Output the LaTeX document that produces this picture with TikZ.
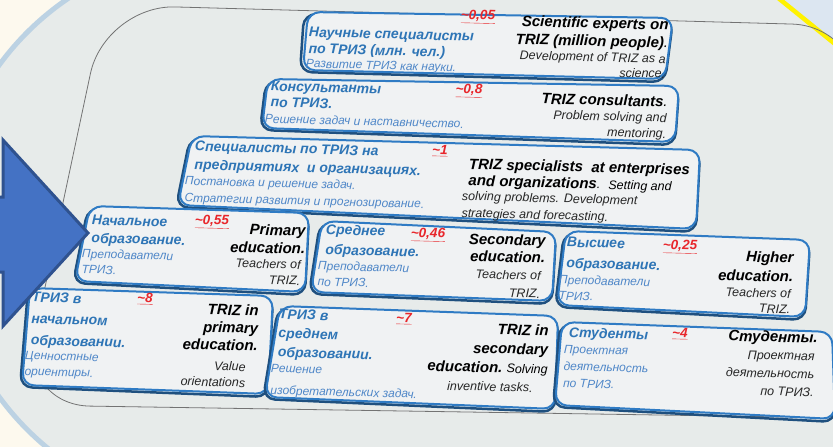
\documentclass[tikz,border=0pt]{standalone}
\usepackage{fontspec}
\setmainfont{Liberation Sans}
\definecolor{cream}{HTML}{FDF9EE}
\definecolor{pagegrey}{HTML}{E7EBEA}
\definecolor{ringblue}{HTML}{BCD2E3}
\definecolor{boxblue}{HTML}{2F7BC4}
\definecolor{boxfill}{HTML}{F0F2F3}
\definecolor{rublue}{HTML}{2E75B6}
\definecolor{rulight}{HTML}{4F87C8}
\definecolor{numred}{HTML}{E8262B}
\definecolor{arrowfill}{HTML}{4472C4}
\definecolor{arrowline}{HTML}{2F528F}
\definecolor{skyblue}{HTML}{DCE6F1}
\newcommand{\rhfont}[1]{\fontsize{14}{#1}\selectfont\bfseries\itshape}
\newcommand{\ehfont}[1]{\fontsize{15}{#1}\selectfont\bfseries\itshape}
\newcommand{\rdfont}[1]{\fontsize{12}{#1}\selectfont\mdseries\itshape}
\newcommand{\edfont}[1]{\fontsize{12.5}{#1}\selectfont\mdseries\itshape}
\tikzset{
  rh/.style={text=rublue, font=\rhfont{#1}, align=left, inner sep=0pt, rotate=-1.5, anchor=north west},
  rh/.default=17,
  rd/.style={text=rulight, font=\rdfont{#1}, align=left, inner sep=0pt, rotate=-1.5, anchor=north west},
  rd/.default=16,
  eh/.style={text=black, font=\ehfont{#1}, align=right, inner sep=0pt, rotate=-1.5, anchor=north east},
  eh/.default=18,
  ed/.style={text=black!85, font=\edfont{#1}, align=right, inner sep=0pt, rotate=-1.5, anchor=north east},
  ed/.default=16,
  nm/.style={text=numred, font=\fontsize{13.5}{15}\selectfont\bfseries\itshape, inner sep=0pt, rotate=-1.5},
  boxshade/.style={draw=boxblue!65!black, line width=2.5pt, rounded corners=12pt},
  boxst/.style={draw=boxblue, fill=boxfill, line width=2pt, rounded corners=12pt}
}
\begin{document}
\begin{tikzpicture}[x=1pt,y=-1pt]
\useasboundingbox (0,0) rectangle (833,447);
\clip (0,0) rectangle (833,447);
% background
\fill[cream] (0,0) rectangle (833,447);
\fill[pagegrey] (226,231) circle[radius=281pt];
\fill[pagegrey] (226,-5) rectangle (840,452);
\draw[ringblue, line width=5pt] (226,231) ++(112:281pt) arc[start angle=112, end angle=248, radius=281pt];
\fill[skyblue] (777,-3) -- (845,-3) -- (845,52) -- cycle;
\draw[yellow, line width=4.5pt] (777,-3) -- (840,48);
% large outline
\draw[black!55, line width=0.8pt, rounded corners=70pt] (105,5) -- (862,26) -- (850,418) -- (20,405) -- cycle;
% boxes
\draw[boxshade] (304,14) -- (673,20) -- (665,82) -- (300,72) -- cycle;
\draw[boxst] (308,12) -- (673,18) -- (665,79) -- (303,70) -- cycle;
\draw[boxshade] (266,81) -- (679,88) -- (675,145) -- (260,130) -- cycle;
\draw[boxst] (268,79) -- (679,86) -- (675,142) -- (262,128) -- cycle;
\draw[boxshade] (190,138) -- (700,152) -- (696,232) -- (176,207) -- cycle;
\draw[boxst] (192,136) -- (700,150) -- (696,229) -- (178,205) -- cycle;
\draw[boxshade] (88,208) -- (309,215) -- (305,295) -- (73,283) -- cycle;
\draw[boxst] (90,206) -- (309,213) -- (305,292) -- (75,281) -- cycle;
\draw[boxshade] (320,223) -- (556,234) -- (552,304) -- (309,294) -- cycle;
\draw[boxst] (322,221) -- (556,232) -- (552,301) -- (311,292) -- cycle;
\draw[boxshade] (564,233) -- (810,242) -- (805,320) -- (555,307) -- cycle;
\draw[boxst] (566,231) -- (810,240) -- (805,317) -- (557,305) -- cycle;
\draw[boxshade] (28,290) -- (273,298) -- (268,397) -- (20,387) -- cycle;
\draw[boxst] (30,288) -- (273,296) -- (268,394) -- (22,385) -- cycle;
\draw[boxshade] (278,308) -- (558,318) -- (555,412) -- (263,399) -- cycle;
\draw[boxst] (280,306) -- (558,316) -- (555,409) -- (265,397) -- cycle;
\draw[boxshade] (560,324) -- (832,334) -- (835,422) -- (553,407) -- cycle;
\draw[boxst] (562,322) -- (832,332) -- (835,419) -- (555,405) -- cycle;
% box 1
\node[nm] (n1) at (478,17) {\underline{\textasciitilde0,05}};
\node[rh=16.5] (r1) at (309,27) {Научные специалисты\\по ТРИЗ (млн. чел.)};
\node[rd] (d1) at (306,59) {Развитие ТРИЗ как науки.};
\node[eh] (e1) at (669,19) {Scientific experts on\\TRIZ (million people){\mdseries.}};
\node[ed=15] (f1) at (666,54) {Development of TRIZ as a\\science.};
% box 2
\node[nm] (n2) at (469,91) {\underline{\textasciitilde0,8}};
\node[rh=16] (r2) at (271,81) {Консультанты\\по ТРИЗ.};
\node[rd] (d2) at (265,114) {Решение задач и наставничество.};
\node[eh] (e2) at (668,96) {TRIZ consultants{\mdseries.}};
\node[ed] (f2) at (667,113) {Problem solving and\\mentoring.};
% box 3
\node[nm] (n3) at (440,151) {\underline{\textasciitilde1}};
\node[rh=18.5] (r3) at (195,141) {Специалисты по ТРИЗ на\\предприятиях~ и организациях.};
\node[rd=17] (d3) at (185,176) {Постановка и решение задач.\\Стратегии развития и прогнозирование.};
\node[eh=16.5, align=left, anchor=north west] (e3) at (469,158) {TRIZ specialists~ at enterprises\\and organizations{\edfont{16}. ~Setting and}};
\node[ed=17, align=left, anchor=north west] (f3) at (462,191) {solving problems. Development\\strategies and forecasting.};
% box 4
\node[nm] (n4) at (212,222) {\underline{\textasciitilde0,55}};
\node[rh=18] (r4) at (92,215) {Начальное\\образование.};
\node[rd=15.5] (d4) at (82,249) {Преподаватели\\ТРИЗ.};
\node[eh=18] (e4) at (306,225) {Primary\\education.};
\node[ed=16] (f4) at (301,260) {Teachers of\\TRIZ.};
% box 5
\node[nm] (n5) at (428,235) {\underline{\textasciitilde0,46}};
\node[rh=20] (r5) at (326,224) {Среднее\\образование.};
\node[rd=16] (d5) at (318,261) {Преподаватели\\по ТРИЗ.};
\node[eh=17] (e5) at (546,235) {Secondary\\education.};
\node[ed=18] (f5) at (541,271) {Teachers of\\TRIZ.};
% box 6
\node[nm] (n6) at (680,247) {\underline{\textasciitilde0,25}};
\node[rh=21] (r6) at (567,237) {Высшее\\образование.};
\node[rd=16] (d6) at (559,275) {Преподаватели\\ТРИЗ.};
\node[eh=19] (e6) at (794,252) {Higher\\education.};
\node[ed=15.5] (f6) at (791,289) {Teachers of\\TRIZ.};
% box 7
\node[nm] (n7) at (145,299) {\underline{\textasciitilde8}};
\node[rh=21.5] (r7) at (32,292) {ТРИЗ в\\начальном\\образовании.};
\node[rd=16] (d7) at (25,351) {Ценностные\\ориентиры.};
\node[eh=17.5] (e7) at (259,305) {TRIZ in\\primary\\education.};
\node[ed=16] (f7) at (246,362) {Value\\orientations};
% box 8
\node[nm] (n8) at (404,319) {\underline{\textasciitilde7}};
\node[rh=19] (r8) at (279,309) {ТРИЗ в\\среднем\\образовании.};
\node[rd=22] (d8) at (271,364) {Решение\\изобретательских задач.};
\node[eh=19] (e8) at (549,325) {TRIZ in\\secondary\\education.~{\edfont{19}Solving}};
\node[ed] (f8) at (533,383) {inventive tasks.};
% box 9
\node[nm] (n9) at (680,334) {\underline{\textasciitilde4}};
\node[rh] (r9) at (569,327) {Студенты};
\node[rd=17] (d9) at (564,345) {Проектная\\деятельность\\по ТРИЗ.};
\node[eh] (e9) at (818,332) {Студенты.};
\node[ed=18] (f9) at (815,352) {Проектная\\деятельность\\по ТРИЗ.};
% arrow
\draw[fill=arrowfill, draw=arrowline, line width=3pt, line join=miter] (-10,197) -- (3,197) -- (3,140) -- (88,233) -- (3,326) -- (3,272) -- (-10,272) -- cycle;
\end{tikzpicture}
\end{document}
